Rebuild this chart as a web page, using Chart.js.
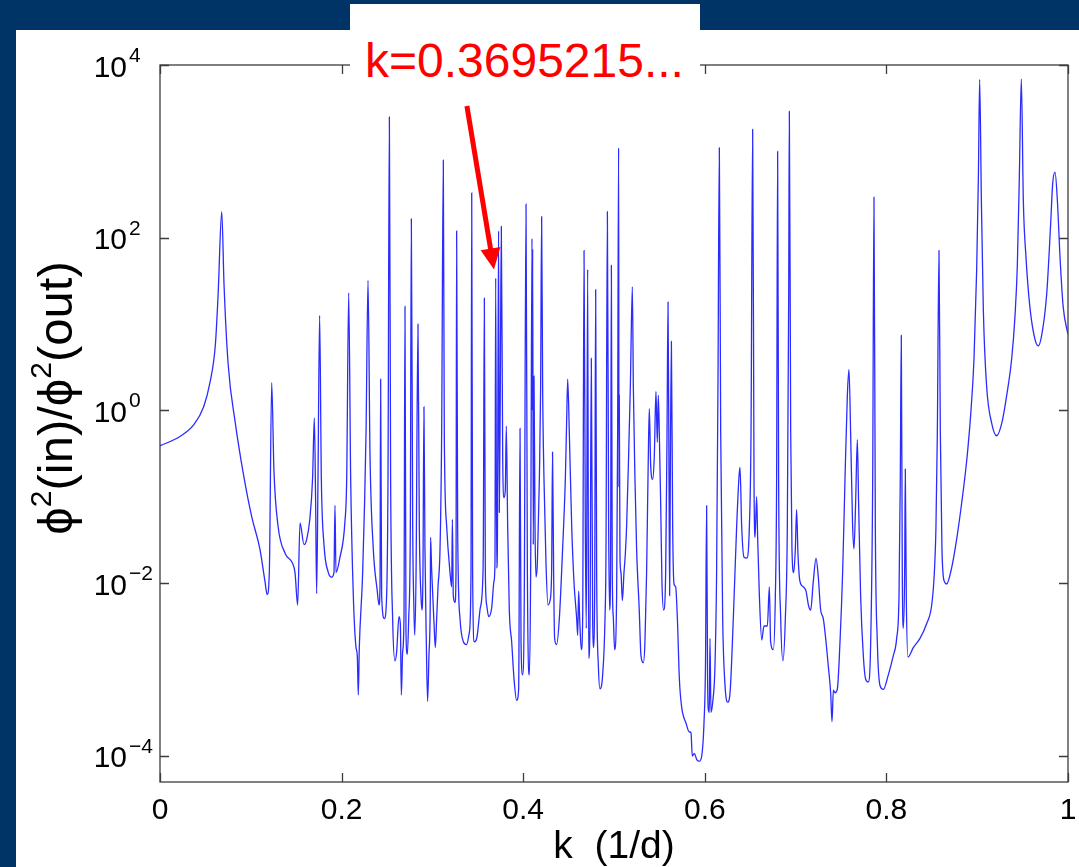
<!DOCTYPE html>
<html><head><meta charset="utf-8">
<script src="https://cdn.jsdelivr.net/npm/chart.js@4.4.1/dist/chart.umd.min.js"></script>
<style>
html,body{margin:0;padding:0;width:1079px;height:867px;overflow:hidden;background:#003466;}
#panel{position:absolute;left:16px;top:30px;width:1063px;height:837px;background:#fff;}
#note{position:absolute;left:350px;top:4px;width:350px;height:84px;background:#fff;}
#note span{position:absolute;left:15px;top:33px;font-family:"Liberation Sans",Arial,Helvetica,sans-serif;font-size:48px;line-height:48px;color:#ff0000;white-space:nowrap;}
canvas{display:block}
</style></head><body>
<div id="panel"><canvas id="c" width="1063" height="837"></canvas></div>
<div id="note"><span id="noteText"></span></div>
<script>
// ---- data ----
const kValues = [
0, 0.022, 0.037, 0.048, 0.055, 0.061, 0.064, 0.068, 0.0705, 0.075,
0.083, 0.092, 0.101, 0.110, 0.1156, 0.118, 0.1204, 0.123, 0.1255, 0.130,
0.138, 0.146, 0.1487, 0.1516, 0.1542, 0.1586, 0.1615, 0.165, 0.168, 0.170,
0.1714, 0.1725, 0.174, 0.1758, 0.1777, 0.1806, 0.1854, 0.189, 0.1916, 0.1927,
0.1938, 0.198, 0.2037, 0.2056, 0.2078, 0.210, 0.2129, 0.2159, 0.2173, 0.2184,
0.2195, 0.2232, 0.2269, 0.2291, 0.2313, 0.2349, 0.2393, 0.2412, 0.2423, 0.2430,
0.2441, 0.2471, 0.2496, 0.2511, 0.2526, 0.2540, 0.2562, 0.2588, 0.2606, 0.2632,
0.2647, 0.2658, 0.2672, 0.2687, 0.2698, 0.2709, 0.2724, 0.2739, 0.2757, 0.2768,
0.2783, 0.2797, 0.2805, 0.2820, 0.2841, 0.2856, 0.2874, 0.2885, 0.2896, 0.2907,
0.2918, 0.2933, 0.2947, 0.2962, 0.2977, 0.2980, 0.2991, 0.3002, 0.3018, 0.3032,
0.3047, 0.3062, 0.3084, 0.3102, 0.3120, 0.3131, 0.3157, 0.3194, 0.3212, 0.3220,
0.3230, 0.3249, 0.3260, 0.3267, 0.3278, 0.3304, 0.3341, 0.3377, 0.3407, 0.3425,
0.3433, 0.3443, 0.3462, 0.3488, 0.3524, 0.3554, 0.3561, 0.3572, 0.3583, 0.3598,
0.3620, 0.3653, 0.3678, 0.3689, 0.3697, 0.3708, 0.3715, 0.3729, 0.3737, 0.3748,
0.3759, 0.3774, 0.3789, 0.3803, 0.3814, 0.3829, 0.3847, 0.3873, 0.3899, 0.3928,
0.3950, 0.3965, 0.3976, 0.3994, 0.4012, 0.4031, 0.4046, 0.4068, 0.4082, 0.4097,
0.4101, 0.4104, 0.4111, 0.4119, 0.4130, 0.4141, 0.4156, 0.4178, 0.4192, 0.4203,
0.4214, 0.4229, 0.4251, 0.4273, 0.4295, 0.4313, 0.4323, 0.4335, 0.4346, 0.4368,
0.4398, 0.4434, 0.4464, 0.4478, 0.4490, 0.4508, 0.4534, 0.4559, 0.4589, 0.4600,
0.4611, 0.4622, 0.4640, 0.4655, 0.4670, 0.4684, 0.4695, 0.4710, 0.4721, 0.4736,
0.4750, 0.4765, 0.4772, 0.4787, 0.4798, 0.4809, 0.4828, 0.4846, 0.4875, 0.4901,
0.4912, 0.4927, 0.4941, 0.4952, 0.4963, 0.4971, 0.4981, 0.4993, 0.5007, 0.5029,
0.5040, 0.5051, 0.5055, 0.5058, 0.5066, 0.5077, 0.5092, 0.5110, 0.5125, 0.5139,
0.5161, 0.5180, 0.5202, 0.5213, 0.5231, 0.5249, 0.5278, 0.5297, 0.5323, 0.5341,
0.5359, 0.5378, 0.5389, 0.5404, 0.5426, 0.5444, 0.5462, 0.5477, 0.5488, 0.5499,
0.5514, 0.5528, 0.5547, 0.5569, 0.5584, 0.5595, 0.5606, 0.5613, 0.5620, 0.5632,
0.5646, 0.5661, 0.5679, 0.5698, 0.5720, 0.5745, 0.5793, 0.5829, 0.5848, 0.5862,
0.5885, 0.5911, 0.5939, 0.5966, 0.5991, 0.6008, 0.6020, 0.6030, 0.6038, 0.6050,
0.6057, 0.6068, 0.6087, 0.6112, 0.6130, 0.6145, 0.6160, 0.6175, 0.6197, 0.6222,
0.6252, 0.6278, 0.6314, 0.6351, 0.6378, 0.6388, 0.6406, 0.6432, 0.6462, 0.6491,
0.6509, 0.6527, 0.6542, 0.6553, 0.6571, 0.6582, 0.6601, 0.6627, 0.6652, 0.6689,
0.6711, 0.6725, 0.6755, 0.6777, 0.6791, 0.6802, 0.6813, 0.6836, 0.6861, 0.6887,
0.6909, 0.6924, 0.6931, 0.6946, 0.6960, 0.6979, 0.6997, 0.7011, 0.7026, 0.7048,
0.7085, 0.7115, 0.7141, 0.7166, 0.7195, 0.7225, 0.7250, 0.7276, 0.7305, 0.7335,
0.7360, 0.7386, 0.7401, 0.7416, 0.7434, 0.7460, 0.7489, 0.7518, 0.7544, 0.7570,
0.7588, 0.7606, 0.7628, 0.7643, 0.7661, 0.7680, 0.7694, 0.7716, 0.7746, 0.7771,
0.7801, 0.7827, 0.7849, 0.7863, 0.7878, 0.7900, 0.7930, 0.7966, 0.8021, 0.8076,
0.8113, 0.8139, 0.8153, 0.8164, 0.8175, 0.8186, 0.8201, 0.8208, 0.8219, 0.8238,
0.8296, 0.8370, 0.8443, 0.8499, 0.8528, 0.8546, 0.8561, 0.8579, 0.8594, 0.8612,
0.8638, 0.8663, 0.8718, 0.8773, 0.8829, 0.8884, 0.8928, 0.8965, 0.8994, 0.9013,
0.9027, 0.9046, 0.9068, 0.9104, 0.9160, 0.9214, 0.9270, 0.9325, 0.9380, 0.9416,
0.9442, 0.9464, 0.9486, 0.9508, 0.9537, 0.9581, 0.9637, 0.9673, 0.9710, 0.9765,
0.9809, 0.9831, 0.9857, 0.9883, 0.9912, 0.9948, 1.000
];
const ratioValues = [
0.39, 0.50, 0.68, 1.1, 2.1, 5.8, 22, 200, 29, 3.5,
0.71, 0.18, 0.059, 0.025, 0.0105, 0.0074, 0.0133, 2.1, 0.20, 0.046,
0.022, 0.017, 0.0133, 0.0056, 0.050, 0.028, 0.032, 0.055, 0.16, 0.82,
0.085, 0.0076, 0.16, 12.6, 0.16, 0.028, 0.0133, 0.0118, 0.0133, 0.080,
0.0133, 0.0195, 0.052, 0.16, 23, 0.16, 0.0072, 0.0018, 0.00145, 0.00051,
0.0018, 0.0133, 0.55, 32, 0.30, 0.025, 0.0081, 0.0056, 0.0091, 2.3,
0.0072, 0.0039, 0.0072, 0.16, 2500, 0.16, 0.0039, 0.00126, 0.0016, 0.0041,
0.0034, 0.00051, 0.0016, 0.0039, 16, 0.0027, 0.0015, 0.0039, 0.046, 165,
0.046, 0.0049, 0.0025, 0.0133, 10, 0.046, 0.0072, 0.0049, 0.0133, 1.1,
0.025, 0.0021, 0.00043, 0.00145, 0.0072, 0.034, 0.015, 0.0081, 0.0034, 0.0018,
0.0039, 0.0091, 0.025, 0.55, 790, 0.55, 0.046, 0.0133, 0.0091, 0.055,
0.0072, 0.006, 0.0133, 120, 0.046, 0.0039, 0.0021, 0.00195, 0.0027, 0.0133,
330, 0.0133, 0.0021, 0.0023, 0.0049, 0.0105, 0.028, 20, 0.0133, 0.0056,
0.0041, 0.0052, 0.0105, 0.017, 34, 0.015, 0.022, 120, 0.066, 1.9,
135, 0.30, 0.098, 0.12, 0.66, 0.046, 0.0049, 0.0021, 0.00078, 0.00044,
0.0006, 0.62, 0.0021, 0.00087, 0.0072, 245, 0.0133, 0.00087, 0.0133, 98,
1.0, 74, 0.028, 2.5, 0.046, 0.0118, 0.017, 0.16, 1.9, 175,
1.9, 0.16, 0.017, 0.0056, 0.0063, 0.0133, 0.33, 0.0133, 0.0023, 0.00195,
0.0039, 0.025, 0.16, 0.71, 2.3, 0.55, 0.046, 0.0105, 0.0039, 0.0025,
0.0081, 0.0039, 0.0017, 0.0039, 71, 0.046, 0.003, 43, 0.00135, 0.0039,
4.0, 0.0039, 0.0018, 0.0072, 25, 0.0133, 0.0011, 0.0006, 0.00087, 0.0039,
0.025, 200, 0.046, 0.0049, 0.025, 48, 0.0133, 0.0039, 0.0017, 0.0072,
0.55, 1100, 0.13, 1.5, 0.02, 0.0133, 0.0063, 0.0133, 0.022, 0.046,
0.30, 1.9, 27, 1.9, 0.16, 0.025, 0.0049, 0.00145, 0.0012, 0.0021,
0.0133, 0.30, 1.05, 0.23, 0.16, 0.30, 1.66, 0.43, 1.5, 0.55,
0.085, 0.0105, 0.0049, 0.0133, 0.55, 18, 0.16, 0.0072, 0.16, 6.3,
0.046, 0.0098, 0.0091, 0.0039, 0.00078, 0.00037, 0.00024, 0.00019, 0.000186, 0.0001,
0.000107, 0.000091, 0.000087, 0.0001, 0.00024, 0.00126, 0.079, 0.001, 0.00035, 0.00032,
0.0023, 0.00032, 0.00042, 0.0011, 0.0133, 1.9, 1100, 0.55, 0.0039, 0.00068,
0.00042, 0.00054, 0.0039, 0.046, 0.18, 0.22, 0.046, 0.020, 0.0195, 0.046,
0.55, 1800, 0.16, 0.034, 0.10, 0.034, 0.0072, 0.0022, 0.0032, 0.0032,
0.0091, 0.0021, 0.0017, 0.0072, 0.16, 1000, 0.16, 0.0039, 0.00126, 0.0039,
0.046, 22, 2900, 0.55, 0.025, 0.0133, 0.025, 0.071, 0.022, 0.0105,
0.0091, 0.0081, 0.0056, 0.0049, 0.0105, 0.0195, 0.0118, 0.0049, 0.0039, 0.0021,
0.0011, 0.00054, 0.00025, 0.00058, 0.00054, 0.0006, 0.0021, 0.0133, 0.16, 1.5,
3.0, 0.55, 0.046, 0.025, 0.085, 0.46, 0.085, 0.0072, 0.00145, 0.00078,
0.00072, 0.0021, 0.16, 295, 0.046, 0.0021, 0.00065, 0.00059, 0.00087, 0.00145,
0.0023, 0.0072, 0.16, 7.4, 0.0133, 0.003, 0.0133, 0.21, 0.0072, 0.0014,
0.0018, 0.0023, 0.0034, 0.0056, 0.0133, 0.046, 0.55, 71, 0.55, 0.025,
0.0105, 0.0098, 0.015, 0.032, 0.085, 0.26, 0.89, 4.0, 42, 500,
6800, 270, 14, 1.9, 0.71, 0.51, 0.71, 1.5, 4.0, 12.3,
48, 500, 6900, 270, 60, 15.5, 6.6, 5.6, 7.4, 22,
145, 420, 575, 270, 60, 15.5, 7.6
];
const xTickValues = [0, 0.2, 0.4, 0.6, 0.8, 1];
const xTickLabels = ['0', '0.2', '0.4', '0.6', '0.8', '1'];
const yTickValues = [1e4, 1e2, 1e0, 1e-2, 1e-4];
const yTickBases = ['10', '10', '10', '10', '10'];
const yTickExponents = ['4', '2', '0', '\u22122', '\u22124'];
const xTitle = 'k  (1/d)';
// y title: "ϕ²(in)/ϕ²(out)" written as [text, isSuperscript] parts
const yTitleParts = [['\u03D5', false], ['2', true], ['(in)/', false], ['\u03D5', false], ['2', true], ['(out)', false]];
const annotationText = 'k=0.3695215...';
const arrowFrom = {k: 0.338, v: 3350};
const arrowTo = {k: 0.3678, v: 43};
const xRange = [0, 1];
const yRange = [5.0e-5, 1e4];

document.getElementById('noteText').textContent = annotationText;

const points = kValues.map((k, i) => ({x: k, y: ratioValues[i]}));
const FONT = '"Liberation Sans", "DejaVu Sans", Arial, Helvetica, sans-serif';

const framePlugin = {
  id: 'frame',
  beforeDatasetsDraw(chart) {
    const {ctx, chartArea: a, scales: {x, y}} = chart;
    ctx.save();
    ctx.strokeStyle = '#3c3c3c';
    ctx.lineWidth = 1.3;
    ctx.strokeRect(a.left, a.top, a.right - a.left, a.bottom - a.top);
    ctx.beginPath();
    xTickValues.forEach(v => {
      const px = Math.round(x.getPixelForValue(v)) + 0.5;
      ctx.moveTo(px, a.bottom); ctx.lineTo(px, a.bottom - 9);
      ctx.moveTo(px, a.top); ctx.lineTo(px, a.top + 9);
    });
    yTickValues.forEach(v => {
      const py = Math.round(y.getPixelForValue(v)) + 0.5;
      ctx.moveTo(a.left, py); ctx.lineTo(a.left + 9, py);
      ctx.moveTo(a.right, py); ctx.lineTo(a.right - 9, py);
    });
    ctx.stroke();

    ctx.fillStyle = '#000';
    ctx.textBaseline = 'alphabetic';
    ctx.font = '30px ' + FONT;
    ctx.textAlign = 'center';
    xTickValues.forEach((v, i) => ctx.fillText(xTickLabels[i], x.getPixelForValue(v), a.bottom + 37));

    yTickValues.forEach((v, i) => {
      const py = y.getPixelForValue(v);
      ctx.font = '30px ' + FONT;
      ctx.textAlign = 'right';
      ctx.fillText(yTickBases[i], a.left - 33, py + 11.5);
      ctx.font = '21px ' + FONT;
      ctx.textAlign = 'left';
      ctx.fillText(yTickExponents[i], a.left - 31, py - 3);
    });

    ctx.font = '39px ' + FONT;
    ctx.textAlign = 'center';
    ctx.fillText(xTitle, (a.left + a.right) / 2, a.bottom + 76);

    // rotated y title with real superscripts
    const F = 49, FS = 30;
    const widths = yTitleParts.map(([t, sup]) => { ctx.font = (sup ? FS : F) + 'px ' + FONT; return ctx.measureText(t).width; });
    const total = widths.reduce((s, w) => s + w, 0);
    ctx.translate(56, a.top + 333);
    ctx.rotate(-Math.PI / 2);
    ctx.textAlign = 'left';
    ctx.textBaseline = 'alphabetic';
    let cx = -total / 2;
    yTitleParts.forEach(([t, sup], i) => {
      ctx.font = (sup ? FS : F) + 'px ' + FONT;
      ctx.fillText(t, cx, sup ? -21 : 0);
      cx += widths[i];
    });
    ctx.restore();
  },
  afterDatasetsDraw(chart) {
    const {ctx, scales: {x, y}} = chart;
    const x0 = x.getPixelForValue(arrowFrom.k), y0 = y.getPixelForValue(arrowFrom.v);
    const x1 = x.getPixelForValue(arrowTo.k), y1 = y.getPixelForValue(arrowTo.v);
    const ang = Math.atan2(y1 - y0, x1 - x0);
    const hl = 21, hw = 10;
    const bx = x1 - hl * Math.cos(ang), by = y1 - hl * Math.sin(ang);
    ctx.save();
    ctx.strokeStyle = '#ff0000';
    ctx.fillStyle = '#ff0000';
    ctx.lineWidth = 5;
    ctx.beginPath(); ctx.moveTo(x0, y0); ctx.lineTo(bx + Math.cos(ang), by + Math.sin(ang)); ctx.stroke();
    ctx.beginPath();
    ctx.moveTo(x1, y1);
    ctx.lineTo(bx + hw * Math.sin(ang), by - hw * Math.cos(ang));
    ctx.lineTo(bx - hw * Math.sin(ang), by + hw * Math.cos(ang));
    ctx.closePath(); ctx.fill();
    ctx.restore();
  }
};

new Chart(document.getElementById('c'), {
  type: 'line',
  data: {datasets: [{
    data: points,
    borderColor: '#2b2bff',
    borderWidth: 1.3,
    pointRadius: 0,
    cubicInterpolationMode: 'monotone',
    fill: false
  }]},
  options: {
    responsive: false,
    devicePixelRatio: 1,
    animation: false,
    events: [],
    layout: {padding: {left: 0, top: 35, right: 11, bottom: 0}},
    plugins: {legend: {display: false}, tooltip: {enabled: false}, title: {display: false}},
    scales: {
      x: {
        type: 'linear', min: xRange[0], max: xRange[1],
        grid: {display: false}, border: {display: false},
        ticks: {display: false},
        afterFit: s => { s.height = 85; }
      },
      y: {
        type: 'logarithmic', min: yRange[0], max: yRange[1],
        grid: {display: false}, border: {display: false},
        ticks: {display: false},
        afterFit: s => { s.width = 144; }
      }
    }
  },
  plugins: [framePlugin]
});
</script>
</body></html>
